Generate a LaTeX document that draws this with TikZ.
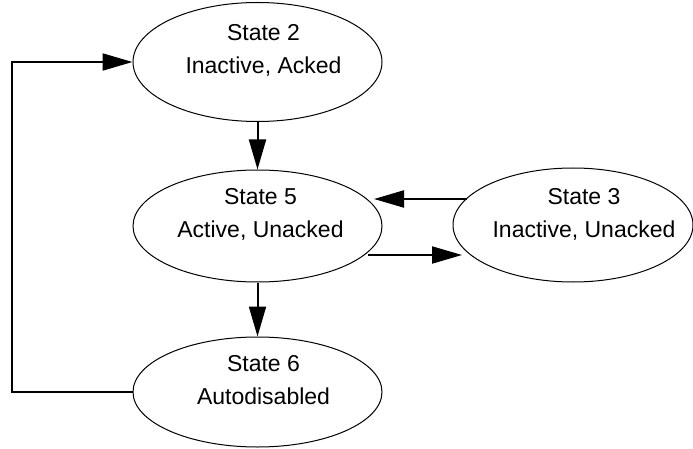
\documentclass[tikz,border=0pt]{standalone}
\usepackage{fontspec}
\setmainfont{Liberation Sans}
\usetikzlibrary{shapes.geometric,arrows.meta,calc}
\begin{document}
\begin{tikzpicture}[x=1pt,y=-1pt,
  state/.style={ellipse, draw, line width=1pt, minimum width=249pt, inner sep=0pt},
  txt/.style={align=center, font=\fontsize{23}{33}\selectfont, inner sep=0pt},
  conn/.style={line width=2pt, -{Triangle[length=30pt,width=17pt]}}]
\useasboundingbox (0,0) rectangle (693,449);
\node[state, minimum height=119pt] (s2) at (257.5,62) {};
\node[state, minimum height=112pt] (s5) at (257.5,226) {};
\node[state, minimum width=240pt, minimum height=114pt] (s3) at (573,225) {};
\node[state, minimum height=110pt] (s6) at (257.5,392) {};
\node[txt] (t2) at ($(s2.center)+(6,-12)$) {State 2\\Inactive, Acked};
\node[txt] (t5) at ($(s5.center)+(3,-12)$) {State 5\\Active, Unacked};
\node[txt] (t3) at ($(s3.center)+(11,-11)$) {State 3\\Inactive, Unacked};
\node[txt] (t6) at ($(s6.center)+(6,-12)$) {State 6\\Autodisabled};
\draw[conn] (s2.south) -- (s5.north);
\draw[conn] (s5.south) -- (s6.north);
\draw[conn] ($(s3.center)+(-106,-26)$) -- ($(s5.center)+(116.5,-27)$);
\draw[conn] ($(s5.center)+(110.5,29)$) -- ($(s3.center)+(-111,30)$);
\draw[conn] (s6.west) -- ++(-121,0) |- (s2.west);
\end{tikzpicture}
\end{document}
